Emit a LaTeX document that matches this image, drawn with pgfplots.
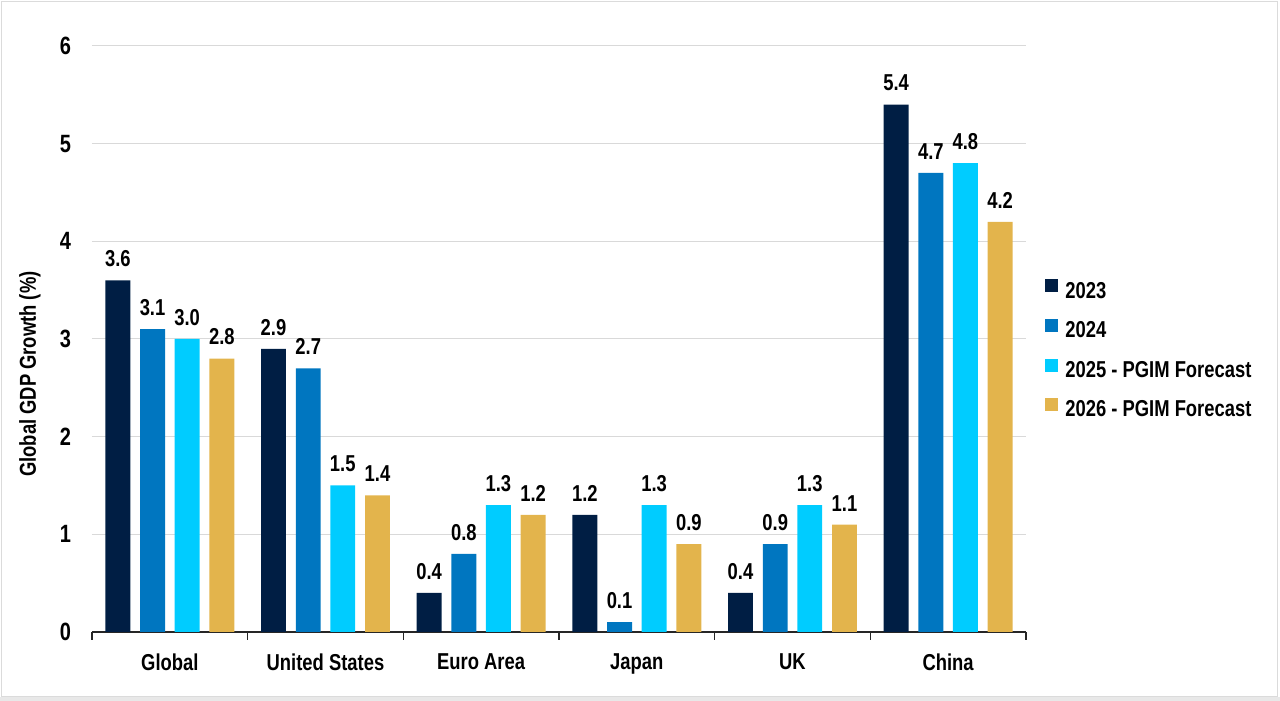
\documentclass[border=0pt]{standalone}
\usepackage{fontspec}
\setmainfont{Liberation Sans}[FakeStretch=0.8]
\usepackage{pgfplots}
\pgfplotsset{compat=1.18}

\definecolor{cNavy}{RGB}{0,30,68}
\definecolor{cBlue}{RGB}{0,118,192}
\definecolor{cCyan}{RGB}{0,204,255}
\definecolor{cGold}{RGB}{227,180,76}

\begin{document}
\begin{tikzpicture}
\useasboundingbox (-46pt,-34.5pt) rectangle (594pt,316pt);
\fill[black!9] (-46pt,-34.5pt) rectangle (594pt,-32.5pt);
\draw[black!14, line width=0.7pt] (-45.3pt,-32.3pt) rectangle (592.6pt,315.3pt);
\begin{axis}[
    name=ax,
    scale only axis,
    width=467pt, height=293pt,
    xmin=-0.5, xmax=5.5,
    ymin=0, ymax=6,
    ytick={0,1,...,6},
    xtick={-0.5,0.5,...,5.5},
    xticklabels={},
    extra x ticks={0,1,2,3,4,5},
    extra x tick labels={Global, United States, Euro Area, Japan, UK, China},
    extra x tick style={major tick length=0pt, grid=none,
        tick label style={yshift=-7.5pt}},
    axis lines*=left,
    y axis line style={draw=none},
    x axis line style={draw=black!85, line width=0.6pt, -},
    ytick style={draw=none},
    xtick style={draw=black!85, line width=0.6pt},
    tick align=outside,
    major tick length=4pt,
    ymajorgrids,
    grid style={draw=black!15, line width=0.5pt},
    /pgf/number format/assume math mode=true,
    yticklabel style={font=\fontsize{12.5}{14}\selectfont\bfseries, xshift=-3pt},
    xticklabel style={font=\fontsize{11.5}{13}\selectfont\bfseries},
    ylabel={Global GDP Growth (\%)},
    every axis y label/.style={at={(axis description cs:0,0.44)}, xshift=-31pt,
        rotate=90, anchor=center, font=\fontsize{11.5}{13}\selectfont\bfseries},
    ybar, bar width=0.16,
    nodes near coords={\pgfmathprintnumber[fixed,fixed zerofill,precision=1]{\pgfplotspointmeta}},
    every node near coord/.append style={font=\fontsize{11.5}{13}\selectfont\bfseries,
        inner sep=0pt, anchor=south, yshift=6.5pt},
    legend style={at={(1.0203,0.482)}, anchor=west, draw=none, fill=none,
        inner sep=0pt, row sep=9pt,
        nodes={inner sep=0pt, font=\fontsize{11.5}{13}\selectfont\bfseries},
        /tikz/column 1/.style={column sep=3.5pt}},
    legend cell align=left,
    legend image code/.code={\fill[#1] (0pt,-0.5pt) rectangle (6.5pt,6pt);},
]
\addplot[fill=cNavy, draw=none, bar shift=-0.334] coordinates {
    (0,3.6) (1,2.9) (2,0.4) (3,1.2) (4,0.4) (5,5.4)};
\addplot[fill=cBlue, draw=none, bar shift=-0.111] coordinates {
    (0,3.1) (1,2.7) (2,0.8) (3,0.1) (4,0.9) (5,4.7)};
\addplot[fill=cCyan, draw=none, bar shift=0.111] coordinates {
    (0,3.0) (1,1.5) (2,1.3) (3,1.3) (4,1.3) (5,4.8)};
\addplot[fill=cGold, draw=none, bar shift=0.334] coordinates {
    (0,2.8) (1,1.4) (2,1.2) (3,0.9) (4,1.1) (5,4.2)};
\legend{2023, 2024, 2025 - PGIM Forecast, 2026 - PGIM Forecast}
\end{axis}
\end{tikzpicture}
\end{document}
